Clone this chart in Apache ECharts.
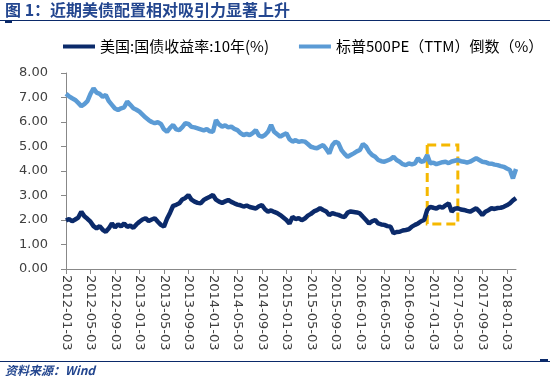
<!DOCTYPE html>
<html>
<head>
<meta charset="utf-8">
<script src="https://cdn.jsdelivr.net/npm/echarts@6/dist/echarts.min.js"></script>
<style>
html,body{margin:0;padding:0;background:#fff;}
#chart{width:550px;height:379px;}
</style>
</head>
<body>
<div id="chart"></div>
<script>
// Semi-monthly sampling dates (day 03 and day 18 of each month), 2012-01 .. 2018-02
var startYear = 2012, endYear = 2018, endMonth = 2;
var categories = [];
for (var y = startYear; y <= endYear; y++) {
  for (var m = 1; m <= 12; m++) {
    if (y === endYear && m > endMonth) break;
    var mm = (m < 10 ? '0' : '') + m;
    categories.push(y + '-' + mm + '-03');
    categories.push(y + '-' + mm + '-18');
  }
}

var seriesNames = ['美国:国债收益率:10年(%)', '标普500PE（TTM）倒数（%）'];

var us10y = [
  1.98,2.04,1.95,2.02,2.10,2.34,2.15,2.05,1.93,1.75,
  1.66,1.75,1.60,1.52,1.66,1.86,1.70,1.82,1.74,1.86,
  1.72,1.77,1.68,1.82,1.93,2.02,2.07,1.96,2.02,2.07,
  1.93,1.80,1.73,2.05,2.30,2.58,2.62,2.68,2.84,2.90,
  3.02,2.83,2.75,2.70,2.68,2.82,2.89,2.95,3.02,2.83,
  2.75,2.70,2.76,2.82,2.74,2.68,2.63,2.60,2.55,2.59,
  2.53,2.50,2.47,2.56,2.61,2.44,2.34,2.39,2.33,2.28,
  2.20,2.10,2.00,1.85,2.13,2.04,2.08,1.99,2.06,2.18,
  2.25,2.35,2.40,2.48,2.41,2.35,2.20,2.28,2.24,2.21,
  2.15,2.12,2.30,2.35,2.33,2.31,2.27,2.13,2.00,1.86,
  1.95,2.00,1.86,1.82,1.80,1.75,1.73,1.46,1.51,1.52,
  1.57,1.59,1.62,1.73,1.80,1.86,1.95,2.00,2.41,2.54,
  2.50,2.47,2.55,2.50,2.60,2.68,2.34,2.46,2.48,2.43,
  2.41,2.37,2.34,2.41,2.48,2.35,2.20,2.34,2.40,2.48,
  2.45,2.49,2.50,2.54,2.60,2.68,2.80,2.89
];

var spxEarningsYield = [
  7.15,7.05,6.97,6.90,6.78,6.65,6.73,6.85,7.15,7.37,
  7.20,7.15,7.03,7.10,6.85,6.70,6.55,6.49,6.56,6.60,
  6.83,6.70,6.56,6.50,6.42,6.30,6.18,6.08,6.00,5.95,
  5.99,5.92,5.70,5.60,5.76,5.88,5.70,5.67,5.79,5.95,
  5.92,5.80,5.78,5.74,5.70,5.66,5.71,5.62,5.60,6.08,
  5.90,5.81,5.86,5.78,5.81,5.72,5.67,5.55,5.47,5.51,
  5.47,5.55,5.67,5.45,5.40,5.47,5.60,5.88,5.60,5.50,
  5.40,5.48,5.54,5.30,5.20,5.26,5.19,5.22,5.20,5.10,
  4.99,4.95,4.93,5.00,5.06,4.90,4.72,5.05,5.20,5.13,
  4.85,4.70,4.58,4.65,4.72,4.80,4.86,5.10,5.00,4.79,
  4.65,4.58,4.45,4.40,4.38,4.43,4.48,4.58,4.45,4.38,
  4.28,4.24,4.31,4.27,4.31,4.52,4.38,4.41,4.65,4.31,
  4.34,4.28,4.32,4.36,4.38,4.32,4.39,4.42,4.45,4.40,
  4.38,4.34,4.38,4.45,4.52,4.45,4.38,4.36,4.31,4.30,
  4.26,4.24,4.20,4.17,4.10,4.04,3.70,4.08
];

var yTicks = [0, 8, 1];           // min, max, interval
var highlightX = ['2016-12-03', '2017-05-03'];
var highlightY = [1.84, 5.06];

var navy = '#0b2a6a';
var lightBlue = '#5b9bd5';
var titleBlue = '#23468f';

var chart = echarts.init(document.getElementById('chart'));
chart.setOption({
  animation: false,
  backgroundColor: '#fff',
  textStyle: { fontFamily: 'DejaVu Sans, "Noto Sans CJK SC", sans-serif' },
  graphic: [
    { type: 'text', left: 5, top: 2,
      style: { text: '图 1：近期美债配置相对吸引力显著上升', fill: titleBlue,
        font: 'bold 16px "Noto Sans CJK SC", sans-serif' } },
    { type: 'rect', left: 0, top: 20, shape: { width: 550, height: 1 }, style: { fill: navy } },
    { type: 'rect', left: 5, top: 20, shape: { width: 7, height: 3 }, style: { fill: navy } },
    { type: 'rect', left: 0, top: 361, shape: { width: 550, height: 1 }, style: { fill: navy } },
    { type: 'rect', left: 540, top: 359, shape: { width: 8, height: 3 }, style: { fill: navy } },
    { type: 'text', left: 5, top: 364,
      style: { text: '资料来源：Wind', fill: titleBlue,
        font: 'italic bold 12px "Noto Sans CJK SC", sans-serif' } }
  ],
  legend: {
    top: 34, left: 58,
    itemWidth: 32, itemHeight: 4, itemGap: 30,
    icon: 'rect',
    textStyle: { fontSize: 15, color: '#000', fontFamily: '"Noto Sans CJK SC", DejaVu Sans, sans-serif' },
    data: seriesNames
  },
  grid: { left: 66, top: 73, width: 450, height: 196, containLabel: false },
  xAxis: {
    type: 'category',
    data: categories,
    boundaryGap: false,
    axisLine: { lineStyle: { color: '#888', width: 1 } },
    axisTick: { show: true, interval: 7, length: 5, lineStyle: { color: '#888' } },
    axisLabel: { interval: 7, rotate: -90, fontSize: 13, color: '#404040', margin: 6,
      fontFamily: 'DejaVu Sans' },
    splitLine: { show: false }
  },
  yAxis: {
    type: 'value',
    min: yTicks[0], max: yTicks[1], interval: yTicks[2],
    axisLine: { show: true, lineStyle: { color: '#888', width: 1 } },
    axisTick: { show: true, length: 5, lineStyle: { color: '#888' } },
    axisLabel: { fontSize: 13, color: '#404040', margin: 18, fontFamily: 'DejaVu Sans',
      formatter: function (v) { return v.toFixed(2); } },
    splitLine: { show: false }
  },
  series: [
    {
      name: seriesNames[0], type: 'line', data: us10y,
      showSymbol: false, symbol: 'none',
      lineStyle: { color: navy, width: 4.5 }, itemStyle: { color: navy },
      z: 3
    },
    {
      name: seriesNames[1], type: 'line', data: spxEarningsYield,
      showSymbol: false, symbol: 'none',
      lineStyle: { color: lightBlue, width: 4.5 }, itemStyle: { color: lightBlue },
      z: 2,
      markArea: {
        silent: true,
        itemStyle: { color: 'rgba(0,0,0,0)', borderColor: '#f5b800', borderWidth: 3,
          borderType: [9, 5], borderRadius: 4 },
        data: [[ { xAxis: highlightX[0], yAxis: highlightY[1] },
                 { xAxis: highlightX[1], yAxis: highlightY[0] } ]]
      }
    }
  ]
});
</script>
</body>
</html>
